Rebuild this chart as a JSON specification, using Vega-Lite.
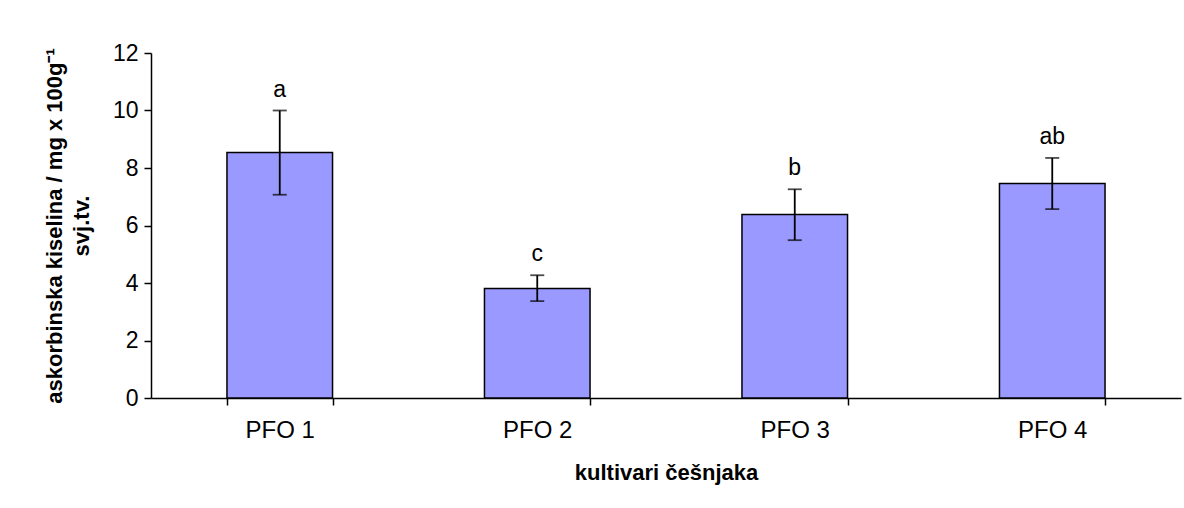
{
  "$schema": "https://vega.github.io/schema/vega-lite/v6.json",
  "width": 1030,
  "height": 345,
  "autosize": {"type": "none"},
  "padding": {"left": 151, "top": 53, "right": 3, "bottom": 110},
  "background": "white",
  "config": {
    "view": {"stroke": null},
    "font": "Liberation Sans",
    "axis": {
      "domainColor": "black",
      "domainWidth": 1.5,
      "tickColor": "black",
      "tickWidth": 1.5,
      "tickSize": 7,
      "labelColor": "black",
      "labelFont": "Liberation Sans",
      "labelFontSize": 23,
      "titleFont": "Liberation Sans",
      "titleFontSize": 22,
      "titleFontWeight": "bold",
      "titleColor": "black",
      "grid": false
    }
  },
  "data": {
    "values": [
      {"cultivar": "PFO 1", "value": 8.54, "lo": 7.07, "hi": 10.0, "group": "a"},
      {"cultivar": "PFO 2", "value": 3.81, "lo": 3.37, "hi": 4.27, "group": "c"},
      {"cultivar": "PFO 3", "value": 6.38, "lo": 5.49, "hi": 7.26, "group": "b"},
      {"cultivar": "PFO 4", "value": 7.46, "lo": 6.57, "hi": 8.35, "group": "ab"}
    ]
  },
  "encoding": {
    "x": {
      "field": "cultivar",
      "type": "nominal",
      "sort": null,
      "scale": {"paddingInner": 0.59, "paddingOuter": 0.295},
      "axis": {
        "title": "kultivari češnjaka",
        "labelAngle": 0,
        "labelPadding": 13,
        "labelFontSize": 24,
        "tickBand": "extent",
        "titlePadding": 20
      }
    }
  },
  "layer": [
    {
      "mark": {"type": "bar", "color": "#9999FF", "stroke": "black", "strokeWidth": 1.5},
      "encoding": {
        "y": {
          "field": "value",
          "type": "quantitative",
          "scale": {"domain": [0, 12], "nice": false},
          "axis": {
            "values": [0, 2, 4, 6, 8, 10, 12],
            "title": ["askorbinska kiselina / mg x 100g⁻¹", "svj.tv."],
            "titleLineHeight": 27,
            "labelPadding": 6,
            "titlePadding": 19
          }
        }
      }
    },
    {
      "mark": {"type": "rule", "color": "black", "strokeWidth": 1.8},
      "encoding": {
        "y": {"field": "lo", "type": "quantitative"},
        "y2": {"field": "hi"}
      }
    },
    {
      "mark": {"type": "tick", "color": "black", "orient": "horizontal", "size": 14, "thickness": 1.8},
      "encoding": {"y": {"field": "lo", "type": "quantitative"}}
    },
    {
      "mark": {"type": "tick", "color": "black", "orient": "horizontal", "size": 14, "thickness": 1.8},
      "encoding": {"y": {"field": "hi", "type": "quantitative"}}
    },
    {
      "mark": {"type": "text", "color": "black", "fontSize": 23, "baseline": "alphabetic", "dy": -14},
      "encoding": {
        "y": {"field": "hi", "type": "quantitative"},
        "text": {"field": "group"}
      }
    }
  ]
}
